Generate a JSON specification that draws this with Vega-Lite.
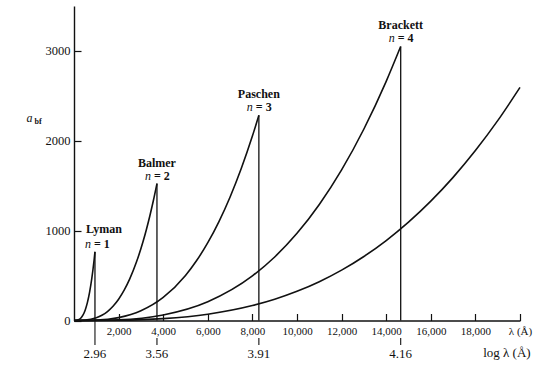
{
  "$schema": "https://vega.github.io/schema/vega-lite/v6.json",
  "width": 446,
  "height": 314.5,
  "autosize": {"type": "none"},
  "padding": {"left": 74, "top": 6, "right": 19, "bottom": 45.5},
  "background": "white",
  "config": {"view": {"stroke": null}, "font": "Liberation Serif", "text": {"font": "Liberation Serif", "color": "#111"}},
  "datasets": {
    "curves": [
      {"series": "n1", "lambda": 0, "a": 0}, {"series": "n1", "lambda": 100, "a": 0.92}, {"series": "n1", "lambda": 200, "a": 7.36}, {"series": "n1", "lambda": 300, "a": 24.8}, {"series": "n1", "lambda": 400, "a": 58.9}, {"series": "n1", "lambda": 500, "a": 115.0}, {"series": "n1", "lambda": 600, "a": 198.7}, {"series": "n1", "lambda": 700, "a": 315.5}, {"series": "n1", "lambda": 800, "a": 470.9}, {"series": "n1", "lambda": 850, "a": 564.9}, {"series": "n1", "lambda": 900, "a": 670.6}, {"series": "n1", "lambda": 940, "a": 764},
      {"series": "n2", "lambda": 0, "a": 0}, {"series": "n2", "lambda": 500, "a": 3.7}, {"series": "n2", "lambda": 1000, "a": 29.6}, {"series": "n2", "lambda": 1250, "a": 57.8}, {"series": "n2", "lambda": 1500, "a": 99.9}, {"series": "n2", "lambda": 1750, "a": 158.7}, {"series": "n2", "lambda": 2000, "a": 236.8}, {"series": "n2", "lambda": 2250, "a": 337.2}, {"series": "n2", "lambda": 2500, "a": 462.6}, {"series": "n2", "lambda": 2800, "a": 649.9}, {"series": "n2", "lambda": 3100, "a": 881.9}, {"series": "n2", "lambda": 3250, "a": 1016.3}, {"series": "n2", "lambda": 3400, "a": 1163.6}, {"series": "n2", "lambda": 3550, "a": 1324.4}, {"series": "n2", "lambda": 3720, "a": 1524},
      {"series": "n3", "lambda": 0, "a": 0}, {"series": "n3", "lambda": 1000, "a": 4.0}, {"series": "n3", "lambda": 2000, "a": 32.1}, {"series": "n3", "lambda": 3000, "a": 108.2}, {"series": "n3", "lambda": 4000, "a": 256.6}, {"series": "n3", "lambda": 5000, "a": 501.1}, {"series": "n3", "lambda": 5500, "a": 667.0}, {"series": "n3", "lambda": 6000, "a": 865.9}, {"series": "n3", "lambda": 6500, "a": 1101.0}, {"series": "n3", "lambda": 7000, "a": 1375.1}, {"series": "n3", "lambda": 7500, "a": 1691.3}, {"series": "n3", "lambda": 8000, "a": 2052.6}, {"series": "n3", "lambda": 8290, "a": 2284},
      {"series": "n4", "lambda": 0, "a": 0}, {"series": "n4", "lambda": 2000, "a": 7.8}, {"series": "n4", "lambda": 4000, "a": 62.1}, {"series": "n4", "lambda": 6000, "a": 209.5}, {"series": "n4", "lambda": 8000, "a": 496.7}, {"series": "n4", "lambda": 9000, "a": 707.1}, {"series": "n4", "lambda": 10000, "a": 970.0}, {"series": "n4", "lambda": 11000, "a": 1291.1}, {"series": "n4", "lambda": 12000, "a": 1676.2}, {"series": "n4", "lambda": 13000, "a": 2131.2}, {"series": "n4", "lambda": 14000, "a": 2661.8}, {"series": "n4", "lambda": 14650, "a": 3050},
      {"series": "n5", "lambda": 0, "a": 0}, {"series": "n5", "lambda": 2000, "a": 2.6}, {"series": "n5", "lambda": 4000, "a": 20.8}, {"series": "n5", "lambda": 6000, "a": 70.0}, {"series": "n5", "lambda": 8000, "a": 166.0}, {"series": "n5", "lambda": 9000, "a": 236.4}, {"series": "n5", "lambda": 10000, "a": 324.3}, {"series": "n5", "lambda": 11000, "a": 431.6}, {"series": "n5", "lambda": 12000, "a": 560.3}, {"series": "n5", "lambda": 13000, "a": 712.4}, {"series": "n5", "lambda": 14000, "a": 889.7}, {"series": "n5", "lambda": 15000, "a": 1094.3}, {"series": "n5", "lambda": 16000, "a": 1328.1}, {"series": "n5", "lambda": 17000, "a": 1593.0}, {"series": "n5", "lambda": 18000, "a": 1891.0}, {"series": "n5", "lambda": 19000, "a": 2224.0}, {"series": "n5", "lambda": 20000, "a": 2594}
    ],
    "edges": [
      {"series": "Lyman", "lambda": 940, "a": 764, "log": "2.96", "eq": "= 1"},
      {"series": "Balmer", "lambda": 3720, "a": 1524, "log": "3.56", "eq": "= 2"},
      {"series": "Paschen", "lambda": 8290, "a": 2284, "log": "3.91", "eq": "= 3"},
      {"series": "Brackett", "lambda": 14650, "a": 3050, "log": "4.16", "eq": "= 4"}
    ],
    "notes": [
      {"kind": "axis2", "lambda": 18350, "a": -365, "label": "log λ (Å)"},
      {"kind": "ytitle", "lambda": -1995, "a": 2250, "label": "a"},
      {"kind": "ysub", "lambda": -1614, "a": 2205, "label": "bf"}
    ]
  },
  "encoding": {
    "x": {"field": "lambda", "type": "quantitative", "scale": {"domain": [0, 20000], "nice": false, "zero": false},
      "axis": {"values": [2000, 4000, 6000, 8000, 10000, 12000, 14000, 16000, 18000, 20000],
        "labelExpr": "datum.value == 20000 ? 'λ (Å)' : format(datum.value, ',')",
        "tickSize": -7, "labelPadding": 18, "labelBaseline": "middle", "labelFlush": false, "labelOverlap": false,
        "labelFont": "Liberation Serif", "labelFontSize": 11, "labelColor": "#111",
        "domainColor": "#111", "domainWidth": 1.4, "tickColor": "#111", "tickWidth": 1.2, "grid": false, "title": null}},
    "y": {"field": "a", "type": "quantitative", "scale": {"domain": [0, 3500], "nice": false, "zero": false},
      "axis": {"values": [0, 1000, 2000, 3000], "format": "d",
        "tickSize": -7, "labelPadding": 11, "labelFlush": false, "labelOverlap": false,
        "labelFont": "Liberation Serif", "labelFontSize": 12.5, "labelColor": "#111",
        "domainColor": "#111", "domainWidth": 1.4, "tickColor": "#111", "tickWidth": 1.2, "grid": false, "title": null}}
  },
  "layer": [
    {
      "data": {"name": "curves"},
      "mark": {"type": "line", "color": "#111", "strokeWidth": 1.6, "interpolate": "monotone", "clip": false},
      "encoding": {"detail": {"field": "series"}}
    },
    {
      "data": {"name": "edges"},
      "mark": {"type": "rule", "color": "#111", "strokeWidth": 1.3},
      "encoding": {"y2": {"datum": 0}}
    },
    {
      "data": {"name": "edges"},
      "mark": {"type": "rule", "color": "#111", "strokeWidth": 1.1},
      "encoding": {
        "y": {"datum": -195, "type": "quantitative", "scale": {"domain": [0, 3500], "nice": false, "zero": false}},
        "y2": {"datum": -273}
      }
    },
    {
      "data": {"name": "edges"},
      "transform": [{"filter": "datum.series == 'Lyman'"}],
      "mark": {"type": "rule", "color": "#111", "strokeWidth": 1.1},
      "encoding": {
        "y": {"datum": 0, "type": "quantitative", "scale": {"domain": [0, 3500], "nice": false, "zero": false}},
        "y2": {"datum": -195}
      }
    },
    {
      "data": {"name": "edges"},
      "mark": {"type": "text", "fontSize": 13, "baseline": "middle", "align": "center"},
      "encoding": {
        "y": {"datum": -378, "type": "quantitative", "scale": {"domain": [0, 3500], "nice": false, "zero": false}},
        "text": {"field": "log"}
      }
    },
    {
      "data": {"name": "notes"},
      "transform": [{"filter": "datum.kind == 'axis2'"}],
      "mark": {"type": "text", "fontSize": 13, "baseline": "middle", "align": "left"},
      "encoding": {"text": {"field": "label"}}
    },
    {
      "data": {"name": "notes"},
      "transform": [{"filter": "datum.kind == 'ytitle'"}],
      "mark": {"type": "text", "fontSize": 12, "fontStyle": "italic", "baseline": "middle", "align": "center"},
      "encoding": {"text": {"field": "label"}}
    },
    {
      "data": {"name": "notes"},
      "transform": [{"filter": "datum.kind == 'ysub'"}],
      "mark": {"type": "text", "fontSize": 8, "fontWeight": "bold", "baseline": "middle", "align": "center"},
      "encoding": {"text": {"field": "label"}}
    },
    {
      "data": {"name": "edges"},
      "transform": [{"filter": "datum.series != 'Lyman'"}],
      "mark": {"type": "text", "fontSize": 12, "fontWeight": "bold", "baseline": "middle", "align": "center", "dy": -21},
      "encoding": {"text": {"field": "series"}}
    },
    {
      "data": {"name": "edges"},
      "transform": [{"filter": "datum.series != 'Lyman'"}],
      "mark": {"type": "text", "fontSize": 12, "fontStyle": "italic", "baseline": "middle", "align": "right", "dy": -8, "dx": -6},
      "encoding": {"text": {"value": "n"}}
    },
    {
      "data": {"name": "edges"},
      "transform": [{"filter": "datum.series != 'Lyman'"}],
      "mark": {"type": "text", "fontSize": 12, "fontWeight": "bold", "baseline": "middle", "align": "left", "dy": -8, "dx": -3},
      "encoding": {"text": {"field": "eq"}}
    },
    {
      "data": {"name": "edges"},
      "transform": [{"filter": "datum.series == 'Lyman'"}],
      "mark": {"type": "text", "fontSize": 12, "fontWeight": "bold", "baseline": "middle", "align": "center", "dy": -23, "dx": 9},
      "encoding": {"text": {"field": "series"}}
    },
    {
      "data": {"name": "edges"},
      "transform": [{"filter": "datum.series == 'Lyman'"}],
      "mark": {"type": "text", "fontSize": 12, "fontStyle": "italic", "baseline": "middle", "align": "right", "dy": -8, "dx": -4},
      "encoding": {"text": {"value": "n"}}
    },
    {
      "data": {"name": "edges"},
      "transform": [{"filter": "datum.series == 'Lyman'"}],
      "mark": {"type": "text", "fontSize": 12, "fontWeight": "bold", "baseline": "middle", "align": "left", "dy": -8, "dx": -1},
      "encoding": {"text": {"field": "eq"}}
    }
  ]
}
